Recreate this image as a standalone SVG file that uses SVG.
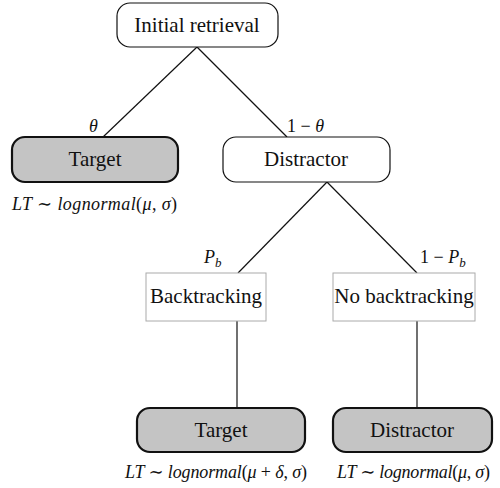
<svg xmlns="http://www.w3.org/2000/svg" width="500" height="488" viewBox="0 0 500 488">
<style>
.lbl{font-size:21px;text-anchor:middle}
.m{font-size:18px;font-style:italic}
.r{fill:#fff;stroke:#111;stroke-width:1.2}
.g{fill:#c4c4c4;stroke:#111;stroke-width:2.2}
.s{fill:#fff;stroke:#aaa;stroke-width:1}
.c line{stroke:#111;stroke-width:1.2}
</style>
<rect width="500" height="488" fill="#fff"/>
<g class="c" id="connectors">
<line x1="197" y1="47" x2="103" y2="137"/>
<line x1="197" y1="47" x2="287" y2="137"/>
<line x1="327" y1="182" x2="238" y2="273"/>
<line x1="327" y1="182" x2="417" y2="273"/>
<line x1="237" y1="321" x2="237" y2="408"/>
<line x1="417" y1="321" x2="417" y2="408"/>
</g>
<g font-family="Liberation Serif, Times New Roman, DejaVu Serif, serif" fill="#111">
<g id="initial"><rect class="r" x="117" y="3" width="161" height="44" rx="13"/><text class="lbl" x="197" y="32">Initial retrieval</text></g>
<g id="target1"><rect class="g" x="12" y="137" width="166" height="45" rx="13"/><text class="lbl" x="95" y="166">Target</text></g>
<g id="distractor1"><rect class="r" x="223" y="137" width="167" height="45" rx="13"/><text class="lbl" x="306" y="166">Distractor</text></g>
<g id="backtracking"><rect class="s" x="146" y="273" width="120" height="48"/><text class="lbl" x="206" y="303">Backtracking</text></g>
<g id="nobacktracking"><rect class="s" x="333" y="273" width="142" height="48"/><text class="lbl" x="404" y="303">No backtracking</text></g>
<g id="target2"><rect class="g" x="137" y="408" width="168" height="44" rx="13"/><text class="lbl" x="221" y="437">Target</text></g>
<g id="distractor2"><rect class="g" x="333" y="408" width="159" height="44" rx="13"/><text class="lbl" x="412" y="437">Distractor</text></g>
<g id="labels">
<text class="m" x="89" y="132">θ</text>
<text class="m" x="287" y="132"><tspan font-style="normal">1 − </tspan>θ</text>
<text class="m" x="204" y="263">P<tspan font-size="13" dy="4">b</tspan></text>
<text class="m" x="420" y="263"><tspan font-style="normal">1 − </tspan>P<tspan font-size="13" dy="4">b</tspan></text>
<text class="m" x="12" y="210" textLength="165" lengthAdjust="spacing">LT <tspan font-style="normal">∼</tspan> lognormal<tspan font-style="normal">(</tspan>μ<tspan font-style="normal">, </tspan>σ<tspan font-style="normal">)</tspan></text>
<text class="m" x="125" y="478" textLength="182" lengthAdjust="spacing">LT <tspan font-style="normal">∼</tspan> lognormal<tspan font-style="normal">(</tspan>μ<tspan font-style="normal"> + </tspan>δ<tspan font-style="normal">, </tspan>σ<tspan font-style="normal">)</tspan></text>
<text class="m" x="337" y="478" textLength="153" lengthAdjust="spacing">LT <tspan font-style="normal">∼</tspan> lognormal<tspan font-style="normal">(</tspan>μ<tspan font-style="normal">, </tspan>σ<tspan font-style="normal">)</tspan></text>
</g>
</g>
</svg>
